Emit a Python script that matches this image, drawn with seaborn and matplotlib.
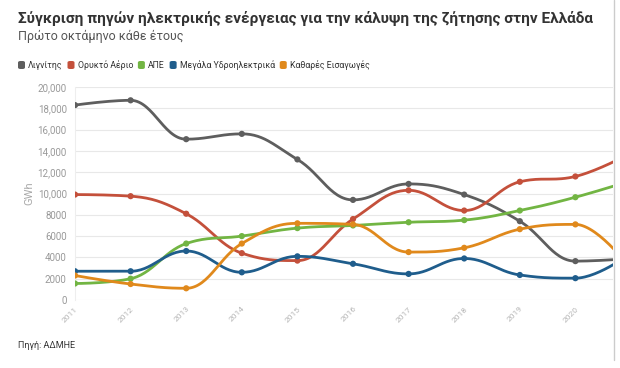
import numpy as np
import pandas as pd
import seaborn as sns
import matplotlib.pyplot as plt
from matplotlib.patches import FancyBboxPatch
from matplotlib.ticker import FuncFormatter

years = [2011, 2012, 2013, 2014, 2015, 2016, 2017, 2018, 2019, 2020, 2021]
lignite = [18300, 18750, 15100, 15600, 13200, 9400, 10900, 9900, 7400, 3650, 3900]
gas = [9900, 9750, 8100, 4400, 3700, 7600, 10300, 8400, 11100, 11600, 13800]
res = [1550, 2000, 5300, 6000, 6750, 7000, 7300, 7500, 8400, 9650, 11200]
hydro = [2700, 2700, 4600, 2600, 4100, 3400, 2450, 3900, 2350, 2050, 4400]
imports = [2300, 1500, 1100, 5300, 7200, 7100, 4500, 4900, 6650, 7100, 2900]

series_names = ["Λιγνίτης", "Ορυκτό Αέριο", "ΑΠΕ", "Μεγάλα Υδροηλεκτρικά", "Καθαρές Εισαγωγές"]
series_values = [lignite, gas, res, hydro, imports]
colors = ["#5e5e5e", "#c4503b", "#72b543", "#1f5d8c", "#e0891c"]

title = "Σύγκριση πηγών ηλεκτρικής ενέργειας για την κάλυψη της ζήτησης στην Ελλάδα"
subtitle = "Πρώτο οκτάμηνο κάθε έτους"
source = "Πηγή: ΑΔΜΗΕ"


def spline(xs, ys, n=30, smoothing=1.5):
    # bezier spline like the web chart: control points kept between neighbours
    xs = np.asarray(xs, float)
    ys = np.asarray(ys, float)
    k = len(xs)
    lc = [(xs[i], ys[i]) for i in range(k)]
    rc = [(xs[i], ys[i]) for i in range(k)]
    d = smoothing + 1
    for i in range(1, k - 1):
        lx = (smoothing * xs[i] + xs[i - 1]) / d
        ly = (smoothing * ys[i] + ys[i - 1]) / d
        rx = (smoothing * xs[i] + xs[i + 1]) / d
        ry = (smoothing * ys[i] + ys[i + 1]) / d
        corr = (ry - ly) * (rx - xs[i]) / (rx - lx) + ys[i] - ry
        ly += corr
        ry += corr
        lo, hi = ys[i - 1], ys[i]
        if ly > lo and ly > hi:
            ly = max(lo, hi)
            ry = 2 * hi - ly
        elif ly < lo and ly < hi:
            ly = min(lo, hi)
            ry = 2 * hi - ly
        nx = ys[i + 1]
        if ry > hi and ry > nx:
            ry = max(hi, nx)
            ly = 2 * hi - ry
        elif ry < hi and ry < nx:
            ry = min(hi, nx)
            ly = 2 * hi - ry
        lc[i] = (lx, ly)
        rc[i] = (rx, ry)
    out_x, out_y = [], []
    t = np.linspace(0, 1, n, endpoint=False)
    for i in range(k - 1):
        p0 = (xs[i], ys[i])
        p1 = rc[i]
        p2 = lc[i + 1]
        p3 = (xs[i + 1], ys[i + 1])
        for j in range(2):
            c = (1 - t) ** 3 * p0[j] + 3 * (1 - t) ** 2 * t * p1[j] + 3 * (1 - t) * t**2 * p2[j] + t**3 * p3[j]
            (out_x if j == 0 else out_y).extend(c)
    out_x.append(xs[-1])
    out_y.append(ys[-1])
    return out_x, out_y


rows, pts = [], []
for name, vals in zip(series_names, series_values):
    sx, sy = spline(years, vals)
    rows += [(name, a, b) for a, b in zip(sx, sy)]
    pts += [(name, a, b) for a, b in zip(years, vals)]
curve_df = pd.DataFrame(rows, columns=["source", "year", "gwh"])
pts_df = pd.DataFrame(pts, columns=["source", "year", "gwh"])

sns.set_theme(style="white")
plt.rcParams["font.family"] = ["Roboto", "DejaVu Sans"]

fig = plt.figure(figsize=(6.2, 3.68), dpi=100)
fig.patch.set_facecolor("white")
ax = fig.add_axes([75 / 620, 1 - 300 / 368, (613 - 75) / 620, (300 - 87) / 368])

palette = dict(zip(series_names, colors))
sns.lineplot(data=curve_df, x="year", y="gwh", hue="source", palette=palette,
             sort=False, estimator=None, linewidth=2, legend=False, ax=ax)
sns.scatterplot(data=pts_df, x="year", y="gwh", hue="source", palette=palette,
                s=20, linewidth=0, legend=False, ax=ax, zorder=3)

ax.set_xlim(2011, 2011 + (613 - 75) / 55.6)
ax.set_ylim(0, 20000)
ax.set_yticks(range(0, 20001, 2000))
ax.yaxis.set_major_formatter(FuncFormatter(lambda v, p: f"{int(v):,}" if v >= 10000 else f"{int(v)}"))
ax.set_xticks(years[:-1])
ax.set_xticklabels([str(y) for y in years[:-1]], rotation=45, ha="right", rotation_mode="anchor")
ax.grid(axis="y", color="#e8e8e8", linewidth=0.8)
ax.set_axisbelow(True)
for s in ["top", "right", "bottom"]:
    ax.spines[s].set_visible(False)
ax.spines["left"].set_color("#eeeeee")
ax.spines["left"].set_linewidth(0.8)
ax.tick_params(axis="y", labelsize=7, colors="#999999", length=0, pad=6)
ax.tick_params(axis="x", labelsize=6, colors="#b5b5b5", length=0, pad=4)
ax.set_xlabel("")
ax.set_ylabel("GWh", fontsize=8, color="#aaaaaa", labelpad=2)

fig.text(18 / 620, 1 - 18 / 368, title, fontsize=11.1, fontweight="bold", color="#333333", va="center")
fig.text(18 / 620, 1 - 36 / 368, subtitle, fontsize=9, color="#555555", va="center")
fig.text(18 / 620, 1 - 345 / 368, source, fontsize=6.5, color="#333333", va="center")

# legend row
x = 18
for name, c in zip(series_names, colors):
    fig.patches.append(FancyBboxPatch((x / 620, 1 - 69 / 368), 7 / 620, 8 / 368,
                                      boxstyle="round,pad=0,rounding_size=0.004",
                                      transform=fig.transFigure, facecolor=c, edgecolor="none"))
    t = fig.text((x + 10) / 620, 1 - 65 / 368, name, fontsize=6.3, color="#333333", va="center")
    fig.canvas.draw()
    bb = t.get_window_extent()
    x = bb.x1 + 5

fig.add_artist(plt.Line2D([614 / 620, 614 / 620], [1 - 360 / 368, 1], color="#cccccc", linewidth=1))

fig.savefig("out.png", dpi=100, facecolor="white")
